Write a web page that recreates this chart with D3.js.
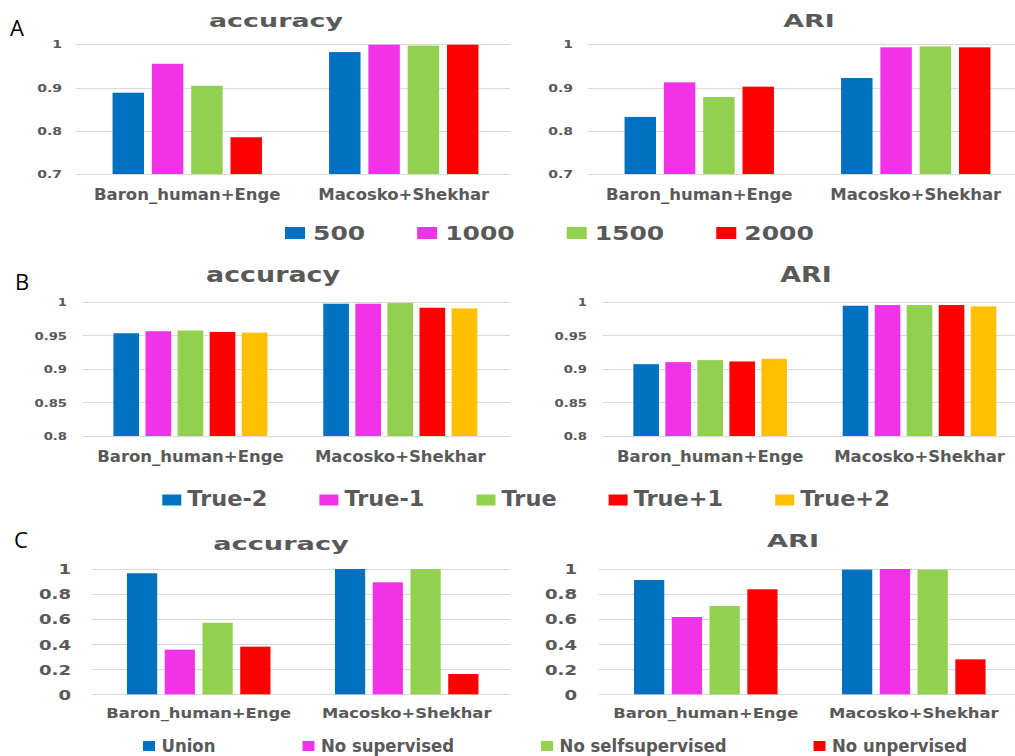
<!DOCTYPE html>
<html>
<head>
<meta charset="utf-8">
<script src="https://cdn.jsdelivr.net/npm/d3@7"></script>
<style>
  html, body { margin: 0; padding: 0; background: #fff; }
  svg { display: block; }
  text { font-family: "DejaVu Sans", Verdana, sans-serif; }
</style>
</head>
<body>
<svg id="fig" width="1015" height="756"></svg>
<script>
// ---- data -------------------------------------------------------------
const categories = ["Baron_human+Enge", "Macosko+Shekhar"];

// A: number of selected genes
const seriesA = ["500", "1000", "1500", "2000"];
const accuracyA = [[0.888, 0.955, 0.904, 0.785], [0.982, 0.999, 0.997, 0.999]];
const ariA = [[0.832, 0.912, 0.878, 0.902], [0.922, 0.993, 0.995, 0.993]];
const ticksA = [0.7, 0.8, 0.9, 1];

// B: number of clusters around the true value
const seriesB = ["True-2", "True-1", "True", "True+1", "True+2"];
const accuracyB = [[0.953, 0.956, 0.957, 0.955, 0.954], [0.997, 0.997, 0.998, 0.991, 0.990]];
const ariB = [[0.907, 0.910, 0.913, 0.911, 0.915], [0.994, 0.995, 0.995, 0.995, 0.993]];
const ticksB = [0.8, 0.85, 0.9, 0.95, 1];

// C: ablation of the training components
const seriesC = ["Union", "No supervised", "No selfsupervised", "No unpervised"];
const accuracyC = [[0.966, 0.356, 0.571, 0.380], [1.0, 0.894, 1.0, 0.162]];
const ariC = [[0.912, 0.617, 0.705, 0.838], [0.995, 1.0, 0.995, 0.279]];
const ticksC = [0, 0.2, 0.4, 0.6, 0.8, 1];

// ---- styling ----------------------------------------------------------
const palette = ["#0070C0", "#F032E8", "#92D050", "#FF0000", "#FFC000"];
const textGray = "#595959";
const gridGray = "#d9d9d9";

const svg = d3.select("#fig");

// text that is widened/narrowed horizontally around its anchor point
function wideText(parent, x, y, str, opt) {
  const t = parent.append("text")
    .attr("transform", `translate(${x},${y}) scale(${opt.k || 1},1)`)
    .attr("text-anchor", opt.anchor || "start")
    .attr("font-size", opt.size)
    .attr("font-weight", opt.weight || "bold")
    .attr("fill", opt.fill || textGray)
    .text(str);
  if (opt.family) t.style("font-family", opt.family);
  return t;
}

function drawChart(cfg, series, values, ticks) {
  const g = svg.append("g");
  const y = d3.scaleLinear().domain(cfg.domain).range([cfg.bottom, cfg.top]);
  const x0 = d3.scaleBand().domain(categories).range([cfg.left, cfg.right]);
  const bw = x0.bandwidth();
  const x1 = d3.scaleBand().domain(series)
    .range([bw * cfg.outer, bw * (1 - cfg.outer)]).paddingInner(0.2);

  // horizontal gridlines
  g.append("g").selectAll("line").data(ticks).join("line")
    .attr("x1", cfg.left - 3).attr("x2", cfg.gridEnd)
    .attr("y1", d => Math.round(y(d)) + 0.5).attr("y2", d => Math.round(y(d)) + 0.5)
    .attr("stroke", gridGray).attr("stroke-width", 1);

  // value axis labels
  const axis = g.append("g").attr("transform", `translate(${cfg.tickRight},0)`)
    .call(d3.axisLeft(y).tickValues(ticks).tickSize(0).tickPadding(0).tickFormat(d => String(d)));
  axis.select(".domain").remove();
  axis.selectAll("text")
    .attr("x", 0).attr("dy", null)
    .attr("transform", `translate(0,${cfg.tickSize * 0.36}) scale(${cfg.tickK},1)`)
    .attr("font-size", cfg.tickSize).attr("font-weight", "bold")
    .attr("fill", textGray).style("font-family", "DejaVu Sans, Verdana, sans-serif");

  // bars
  g.append("g").selectAll("g").data(categories).join("g")
    .attr("transform", c => `translate(${x0(c)},0)`)
    .selectAll("rect")
    .data((c, ci) => series.map((s, si) => ({ s, si, v: values[ci][si] })))
    .join("rect")
    .attr("x", d => x1(d.s))
    .attr("width", x1.bandwidth())
    .attr("y", d => y(d.v))
    .attr("height", d => y(cfg.domain[0]) - y(d.v))
    .attr("fill", d => palette[d.si]);

  // category labels
  categories.forEach(c => {
    wideText(g, x0(c) + bw / 2, cfg.catY, c, { size: cfg.catSize, k: cfg.catK, anchor: "middle" });
  });

  // title
  wideText(g, cfg.titleX, cfg.titleY, cfg.title, { size: cfg.titleSize, k: cfg.titleK, anchor: "middle" });
}

function drawLegend(series, lg) {
  const g = svg.append("g");
  let x = lg.x;
  series.forEach((s, i) => {
    g.append("rect").attr("x", x).attr("y", lg.y - lg.h).attr("width", lg.w).attr("height", lg.h)
      .attr("fill", palette[i]);
    const t = wideText(g, x + lg.w + lg.textGap, lg.y + lg.textDy, s, { size: lg.size, k: lg.k });
    x += lg.w + lg.textGap + t.node().getComputedTextLength() * lg.k + lg.itemGap;
  });
}

function panelLetter(str, x, y) {
  wideText(svg, x, y, str, { size: 22, weight: "normal", fill: "#000", family: "Open Sans, Liberation Sans, sans-serif" });
}

// ---- panel A ----------------------------------------------------------
const rowA = { domain: [0.7, 1], top: 44.3, bottom: 174, outer: 0.155,
  tickSize: 10, tickK: 1.4, catY: 200, catSize: 15, catK: 1.1,
  titleY: 27, titleSize: 18.3, titleK: 1.47 };
drawChart(Object.assign({}, rowA, { left: 79, right: 512, gridEnd: 510, tickRight: 62,
  title: "accuracy", titleX: 276 }), seriesA, accuracyA, ticksA);
drawChart(Object.assign({}, rowA, { left: 591, right: 1024, gridEnd: 1015, tickRight: 573,
  title: "ARI", titleX: 809 }), seriesA, ariA, ticksA);
drawLegend(seriesA, { x: 285, y: 239, w: 20, h: 12, textGap: 8, itemGap: 52, textDy: 0.5, size: 20, k: 1.25 });
panelLetter("A", 10, 36);

// ---- panel B ----------------------------------------------------------
const rowB = { domain: [0.8, 1], top: 301.7, bottom: 436, outer: 0.133,
  tickSize: 11, tickK: 1.2, catY: 461.7, catSize: 15, catK: 1.1,
  titleY: 282.3, titleSize: 21.5, titleK: 1.25 };
drawChart(Object.assign({}, rowB, { left: 85.5, right: 505.2, gridEnd: 510, tickRight: 67,
  title: "accuracy", titleX: 273 }), seriesB, accuracyB, ticksB);
drawChart(Object.assign({}, rowB, { left: 605.5, right: 1024.2, gridEnd: 1015, tickRight: 587,
  title: "ARI", titleX: 806 }), seriesB, ariB, ticksB);
drawLegend(seriesB, { x: 162.3, y: 505.5, w: 19, h: 11, textGap: 6, itemGap: 52, textDy: 0.5, size: 21, k: 1.07 });
panelLetter("B", 15, 290);

// ---- panel C ----------------------------------------------------------
const rowC = { domain: [0, 1], top: 569, bottom: 694.3, outer: 0.155,
  tickSize: 13.5, tickK: 1.34, catY: 718.3, catSize: 14, catK: 1.17,
  titleSize: 17, titleK: 1.6 };
drawChart(Object.assign({}, rowC, { left: 94.7, right: 510.7, gridEnd: 510, tickRight: 71,
  title: "accuracy", titleX: 281, titleY: 550 }), seriesC, accuracyC, ticksC);
drawChart(Object.assign({}, rowC, { left: 601.8, right: 1017.8, gridEnd: 1015, tickRight: 577,
  title: "ARI", titleX: 793, titleY: 547 }), seriesC, ariC, ticksC);
drawLegend(seriesC, { x: 143, y: 751, w: 12, h: 10, textGap: 6.5, itemGap: 87, textDy: 0.7, size: 17.4, k: 0.95 });
panelLetter("C", 14, 548);
</script>
</body>
</html>
